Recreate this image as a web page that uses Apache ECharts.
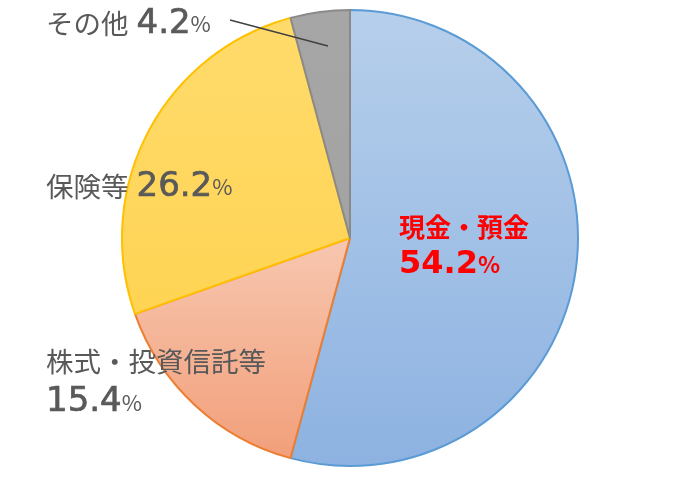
<!DOCTYPE html>
<html><head><meta charset="utf-8">
<script src="https://cdn.jsdelivr.net/npm/echarts@6/dist/echarts.min.js"></script>
<style>html,body{margin:0;padding:0;background:#fff}#c{width:700px;height:479px}</style>
</head><body><div id="c"></div>
<script>
const categories = ['現金・預金', '株式・投資信託等', '保険等', 'その他'];
const values = [54.2, 15.4, 26.2, 4.2];
const fillTop = ['#b6cfeb', '#f7c7b0', '#ffdb6c', '#a6a6a6'];
const fillBottom = ['#8db2e1', '#f29f7a', '#ffd454', '#a3a3a3'];
const borders = ['#5b9bd5', '#ed7d31', '#ffc000', '#8a8a8a'];

const FONT = '"Noto Sans CJK JP", "Noto Sans", sans-serif';
const NUMFONT = '"DejaVu Sans", sans-serif';
const grey = '#595959';

function grad(i){
  return {type:'linear', x:0, y:0, x2:0, y2:1,
    colorStops:[{offset:0,color:fillTop[i]},{offset:1,color:fillBottom[i]}]};
}

// label placement per category (layout only)
const labelPos = [
  {x:399, y:246},
  {x:46, y:382},
  {x:46, y:187},
  {x:46, y:24}
];
const twoLine = [true, true, false, false];

const data = categories.map((name,i)=>({
  name, value: values[i],
  itemStyle:{color:grad(i), borderColor:borders[i], borderWidth:2},
  label:{
    formatter: i===0
      ? '{r|{b}}\n{rn|{c}}{rp|%}'
      : (twoLine[i] ? '{a|{b}}\n{n|{c}}{p|%}' : '{s|{b}}{n|{c}}{p|%}')
  }
}));

const chart = echarts.init(document.getElementById('c'));
chart.setOption({
  animation:false,
  series:[{
    type:'pie',
    center:[350,238],
    radius:228,
    startAngle:90,
    clockwise:true,
    data,
    labelLine:{show:false},
    label:{
      show:true,
      position:'outside',
      overflow:'none',
      width:400,
      fontFamily:FONT,
      rich:{
        a:{fontSize:27.5, color:grey, fontFamily:FONT, lineHeight:41},
        s:{fontSize:27.5, color:grey, fontFamily:FONT, lineHeight:41, padding:[0,8,0,0]},
        n:{fontSize:34, color:grey, fontFamily:NUMFONT, lineHeight:41, textBorderColor:grey, textBorderWidth:0.7},
        p:{fontSize:22, color:grey, fontFamily:FONT, lineHeight:41},
        r:{fontSize:26, color:'#ff0000', fontFamily:FONT, fontWeight:'bold', lineHeight:37},
        rn:{fontSize:32, color:'#ff0000', fontFamily:NUMFONT, fontWeight:'bold', lineHeight:37},
        rp:{fontSize:23, color:'#ff0000', fontFamily:FONT, fontWeight:'bold', lineHeight:37}
      }
    },
    labelLayout:function(p){
      const L = labelPos[p.dataIndex];
      return {x:L.x, y:L.y, align:'left', verticalAlign:'middle', hideOverlap:false, moveOverlap:false};
    }
  }],
  graphic:[{
    type:'line', shape:{x1:230, y1:20, x2:328, y2:46},
    style:{stroke:'#404040', lineWidth:1.3}, z:100
  }]
});
</script></body></html>
